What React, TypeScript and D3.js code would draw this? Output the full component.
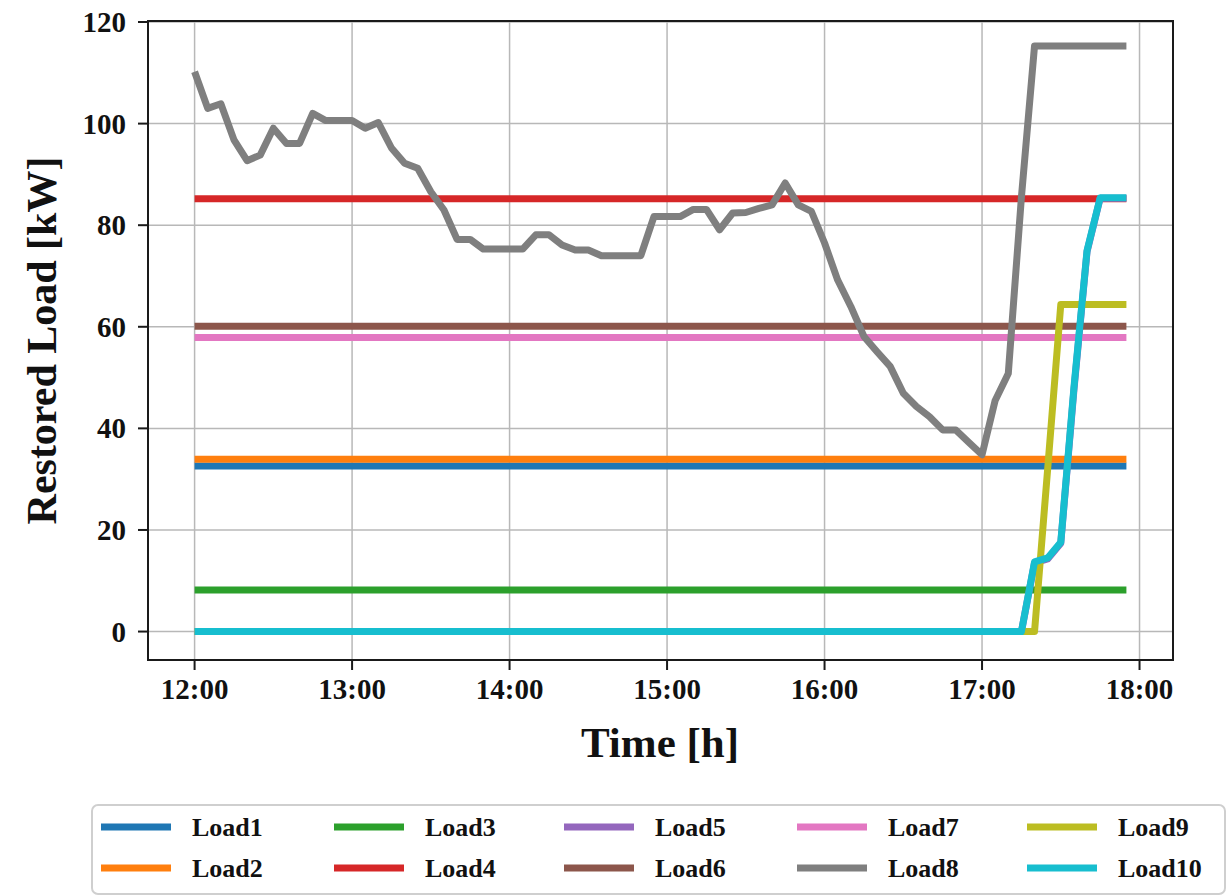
import React from "react";
import * as d3 from "d3";

const parseTime = d3.timeParse("%H:%M");

// x tick labels and y ticks
const xTickLabels = ["12:00", "13:00", "14:00", "15:00", "16:00", "17:00", "18:00"];
const yTicks = [0, 20, 40, 60, 80, 100, 120];

const loadNames = ["Load1", "Load2", "Load3", "Load4", "Load5", "Load6", "Load7", "Load8", "Load9", "Load10"];
const loadColors = ["#1f77b4", "#ff7f0e", "#2ca02c", "#d62728", "#9467bd", "#8c564b", "#e377c2", "#7f7f7f", "#bcbd22", "#17becf"];

// piecewise loads: [time, kW] breakpoints
const load1 = [["12:00", 32.6], ["17:55", 32.6]];
const load2 = [["12:00", 33.9], ["17:55", 33.9]];
const load3 = [["12:00", 8.2], ["17:55", 8.2]];
const load4 = [["12:00", 85.2], ["17:55", 85.2]];
// Load5 sits underneath Load10 (only a sliver shows at the right end)
const load5 = [["12:00", 0], ["17:15", 0], ["17:20", 13.5], ["17:25", 14.3], ["17:30", 17.4], ["17:35", 47.5], ["17:40", 74.8], ["17:45", 85.3], ["17:55", 85.3]];
const load6 = [["12:00", 60.1], ["17:55", 60.1]];
const load7 = [["12:00", 57.9], ["17:55", 57.9]];
const load9 = [["12:00", 0], ["17:20", 0], ["17:25", 32], ["17:30", 64.4], ["17:55", 64.4]];
const load10 = [["12:00", 0], ["17:15", 0], ["17:20", 13.7], ["17:25", 14.5], ["17:30", 17.6], ["17:35", 48], ["17:40", 75], ["17:45", 85.4], ["17:55", 85.4]];

// Load8 sampled every 5 min from 12:00
const load8Start = "12:00";
const load8Values = [
  110.2, 103.0, 103.9, 96.8, 92.7, 93.8, 99.1, 96.1, 96.1, 102.0, 100.6, 100.6,
  100.6, 99.1, 100.2, 95.2, 92.2, 91.2, 86.6, 83.0, 77.2, 77.2, 75.3, 75.3,
  75.3, 75.3, 78.1, 78.1, 76.1, 75.1, 75.1, 74.0, 74.0, 74.0, 74.0, 81.7,
  81.7, 81.7, 83.1, 83.1, 79.1, 82.4, 82.5, 83.3, 84.0, 88.3, 84.0, 82.7,
  76.5, 69.2, 64.0, 58.1, 55.1, 52.2, 46.9, 44.3, 42.3, 39.7, 39.7, 37.2,
  34.8, 45.5, 50.8, 85.5, 115.3, 115.3, 115.3, 115.3, 115.3, 115.3, 115.3, 115.3,
];

type Pt = { t: Date; v: number };

const fromPairs = (pairs: (string | number)[][]): Pt[] =>
  pairs.map((p) => ({ t: parseTime(p[0] as string) as Date, v: p[1] as number }));

const load8 = load8Values.map((v, i) => ({
  t: d3.timeMinute.offset(parseTime(load8Start) as Date, i * 5),
  v,
}));

const series: Pt[][] = [
  fromPairs(load1), fromPairs(load2), fromPairs(load3), fromPairs(load4), fromPairs(load5),
  fromPairs(load6), fromPairs(load7), load8, fromPairs(load9), fromPairs(load10),
];

const W = 1230;
const H = 896;
const plot = { left: 148, right: 1173, top: 21, bottom: 660 };
const font = "'Liberation Serif', 'Times New Roman', serif";

const App = () => {
  // matplotlib-like 5% margin around 12:00 .. 17:55
  const x = d3
    .scaleTime()
    .domain([d3.timeSecond.offset(parseTime("11:42") as Date, 15), d3.timeSecond.offset(parseTime("18:12") as Date, 45)])
    .range([plot.left, plot.right]);

  const y = d3.scaleLinear().domain([-5.6, 120.2]).range([plot.bottom, plot.top]);

  const line = d3
    .line<Pt>()
    .x((d) => x(d.t))
    .y((d) => y(d.v));

  const xTicks = xTickLabels.map((s) => parseTime(s) as Date);

  const legendCols = [101, 334, 564, 797, 1027];
  const legendRows = [827, 868];

  return (
    <svg width={W} height={H} style={{ position: "absolute", left: 0, top: 0, background: "#fff" }}>
      {/* grid */}
      <g stroke="#b8b8b8" strokeWidth={1.5}>
        {xTicks.map((t, i) => (
          <line key={"gx" + i} x1={x(t)} x2={x(t)} y1={plot.top} y2={plot.bottom} />
        ))}
        {yTicks.map((v) => (
          <line key={"gy" + v} x1={plot.left} x2={plot.right} y1={y(v)} y2={y(v)} />
        ))}
      </g>

      {/* loads */}
      <g fill="none" strokeWidth={7} strokeLinejoin="round" strokeLinecap="butt">
        {series.map((s, i) => (
          <path key={loadNames[i]} d={line(s) || ""} stroke={loadColors[i]} />
        ))}
      </g>

      {/* spines */}
      <rect
        x={plot.left}
        y={plot.top}
        width={plot.right - plot.left}
        height={plot.bottom - plot.top}
        fill="none"
        stroke="#1a1a1a"
        strokeWidth={2}
      />

      {/* axes ticks */}
      <g fontFamily={font} fontWeight="bold" fontSize={29} fill="#111">
        {xTicks.map((t, i) => (
          <g key={"tx" + i}>
            <line x1={x(t)} x2={x(t)} y1={plot.bottom} y2={plot.bottom + 10} stroke="#1a1a1a" strokeWidth={2} />
            <text x={x(t)} y={plot.bottom + 39} textAnchor="middle">
              {xTickLabels[i]}
            </text>
          </g>
        ))}
        {yTicks.map((v) => (
          <g key={"ty" + v}>
            <line x1={plot.left - 10} x2={plot.left} y1={y(v)} y2={y(v)} stroke="#1a1a1a" strokeWidth={2} />
            <text x={plot.left - 22} y={y(v)} textAnchor="end" dominantBaseline="central">
              {v}
            </text>
          </g>
        ))}
      </g>

      <text x={660} y={757} textAnchor="middle" fontFamily={font} fontWeight="bold" fontSize={43} fill="#111">
        Time [h]
      </text>
      <text
        transform={`translate(42,${(plot.top + plot.bottom) / 2}) rotate(-90)`}
        textAnchor="middle"
        dominantBaseline="central"
        fontFamily={font}
        fontWeight="bold"
        fontSize={42}
        fill="#111"
      >
        Restored Load [kW]
      </text>

      {/* legend */}
      <rect x={92} y={805} width={1133} height={89} rx={6} fill="#fff" stroke="#cfcfcf" strokeWidth={2} />
      {loadNames.map((name, i) => {
        const cx = legendCols[Math.floor(i / 2)];
        const cy = legendRows[i % 2];
        return (
          <g key={"lg" + name}>
            <line x1={cx} x2={cx + 70} y1={cy} y2={cy} stroke={loadColors[i]} strokeWidth={7} />
            <text
              x={cx + 91}
              y={cy}
              dominantBaseline="central"
              fontFamily={font}
              fontWeight="bold"
              fontSize={26}
              fill="#111"
            >
              {name}
            </text>
          </g>
        );
      })}
    </svg>
  );
};

export default App;
